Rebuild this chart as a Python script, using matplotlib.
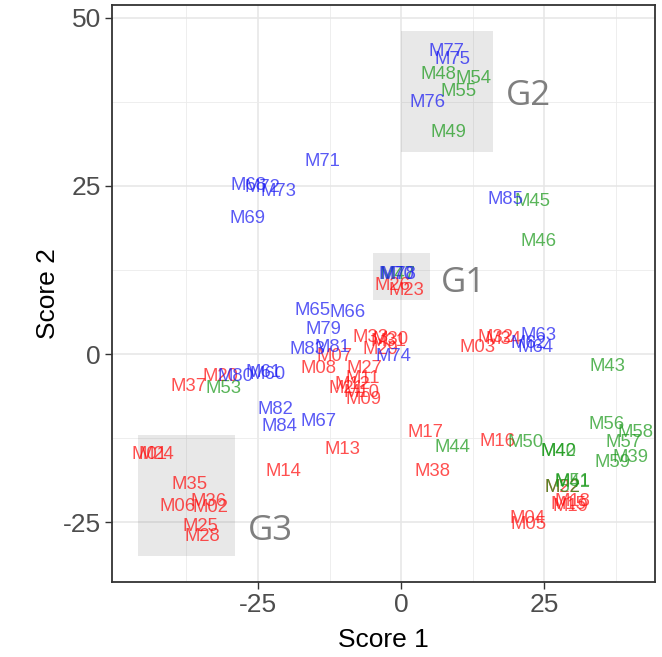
import matplotlib
matplotlib.use("Agg")
import matplotlib.pyplot as plt
from matplotlib.patches import Rectangle

# Sample scores, one list per group
red_labels = ["M01", "M02", "M03", "M04", "M05", "M06", "M07", "M08", "M09", "M10",
              "M11", "M12", "M13", "M14", "M15", "M16", "M17", "M18", "M19", "M20",
              "M21", "M22", "M23", "M24", "M25", "M26", "M27", "M28", "M29", "M30",
              "M31", "M32", "M33", "M34", "M35", "M36", "M37", "M38"]
red_x = [-43.9, -33.4, 13.3, 22.0, 22.2, -39.0, -11.7, -14.5, -6.6, -7.0,
         -6.8, -8.6, -10.3, -20.6, 29.2, 16.8, 4.2, 29.9, 29.5, -31.6,
         -9.6, 28.1, 0.9, -42.7, -35.1, -1.6, -6.5, -34.8, -3.7, -1.9,
         -2.3, 16.4, -5.4, 17.8, -36.9, -33.7, -37.2, 5.4]
red_y = [-14.9, -22.9, 1.0, -24.4, -25.4, -22.7, -0.3, -2.1, -6.7, -5.7,
         -3.7, -4.6, -14.2, -17.5, -22.4, -13.0, -11.7, -22.0, -22.7, -3.3,
         -5.2, -19.9, 9.4, -14.9, -25.7, 10.2, -2.1, -27.2, 0.7, 2.2,
         1.9, 2.5, 2.5, 2.2, -19.4, -22.0, -4.9, -17.5]

green_labels = ["M39", "M40", "M41", "M42", "M43", "M44", "M45", "M46", "M47", "M48",
                "M49", "M50", "M51", "M52", "M53", "M54", "M55", "M56", "M57", "M58", "M59"]
green_x = [40.0, 27.4, 29.9, 27.5, 36.0, 8.9, 22.9, 24.0, -0.7, 6.5,
           8.2, 21.7, 29.9, 28.1, -31.1, 12.6, 10.0, 35.8, 38.8, 40.9, 36.9]
green_y = [-15.4, -14.5, -19.1, -14.5, -1.9, -13.9, 22.7, 16.7, 11.8, 41.6,
           33.0, -13.2, -19.0, -19.9, -5.2, 41.0, 39.0, -10.5, -13.2, -11.7, -16.1]

blue_labels = ["M60", "M61", "M62", "M63", "M64", "M65", "M66", "M67", "M68", "M69",
               "M70", "M71", "M72", "M73", "M74", "M75", "M76", "M77", "M78", "M79",
               "M80", "M81", "M82", "M83", "M84", "M85"]
blue_x = [-23.4, -24.1, 22.2, 24.0, 23.4, -15.4, -9.4, -14.5, -26.6, -26.9,
          -0.9, -13.8, -24.3, -21.5, -1.4, 8.9, 4.5, 7.9, -0.5, -13.6,
          -29.0, -12.1, -22.0, -16.4, -21.2, 18.2]
blue_y = [-3.0, -2.8, 1.5, 2.7, 0.9, 6.4, 6.1, -10.0, 25.1, 20.2,
          11.8, 28.6, 24.8, 24.2, -0.4, 43.8, 37.4, 45.0, 11.8, 3.6,
          -3.3, 0.9, -8.2, 0.6, -10.8, 23.0]

# Highlighted groups: name, x range, y range
group_names = ["G1", "G2", "G3"]
group_xmin = [-5, 0, -46]
group_xmax = [5, 16, -29]
group_ymin = [8, 30, -30]
group_ymax = [15, 48, -12]
group_label_x = [10.8, 22.2, -22.9]
group_label_y = [10.5, 38.4, -26.3]

plt.rcParams["font.family"] = ["Liberation Sans", "DejaVu Sans"]
plt.rcParams["axes.unicode_minus"] = False

fig = plt.figure(figsize=(6.62, 6.57), dpi=100)
ax = fig.add_axes([0.1692, 0.1142, 0.8202, 0.8782])

for i in range(3):
    ax.add_patch(Rectangle((group_xmin[i], group_ymin[i]),
                           group_xmax[i] - group_xmin[i], group_ymax[i] - group_ymin[i],
                           facecolor="grey", alpha=0.18, edgecolor="none", zorder=1))
    ax.text(group_label_x[i], group_label_y[i], group_names[i], fontsize=25,
            color="#7f7f7f", ha="center", va="center", family="Open Sans", zorder=3)

series = [(red_labels, red_x, red_y, (1.0, 0.05, 0.05)),
          (green_labels, green_x, green_y, (0.1, 0.6, 0.1)),
          (blue_labels, blue_x, blue_y, (0.1, 0.1, 0.95))]
for labels, xs, ys, col in series:
    for lab, xv, yv in zip(labels, xs, ys):
        ax.text(xv, yv, lab, color=col, alpha=0.72, fontsize=13.3,
                ha="center", va="center", zorder=4)

ax.set_xlim(-50.5, 44.3)
ax.set_ylim(-33.9, 51.9)
ax.set_xticks([-25, 0, 25])
ax.set_yticks([-25, 0, 25, 50])
ax.set_xticks([-37.5, -12.5, 12.5, 37.5], minor=True)
ax.set_yticks([-12.5, 12.5, 37.5], minor=True)
ax.grid(which="major", color="#e6e6e6", linewidth=1.1, zorder=0)
ax.grid(which="minor", color="#ebebeb", linewidth=0.6, zorder=0)
ax.set_axisbelow(True)
ax.tick_params(which="minor", length=0)
ax.tick_params(which="major", length=5, width=1, color="#333333",
               labelsize=19, labelcolor="#4d4d4d", pad=3)
for sp in ax.spines.values():
    sp.set_color("#333333")
    sp.set_linewidth(1.3)

ax.set_xlabel("Score 1", fontsize=19, color="black", labelpad=8)
ax.set_ylabel("Score 2", fontsize=19, color="black", labelpad=2)

fig.savefig("out.png", dpi=100)
